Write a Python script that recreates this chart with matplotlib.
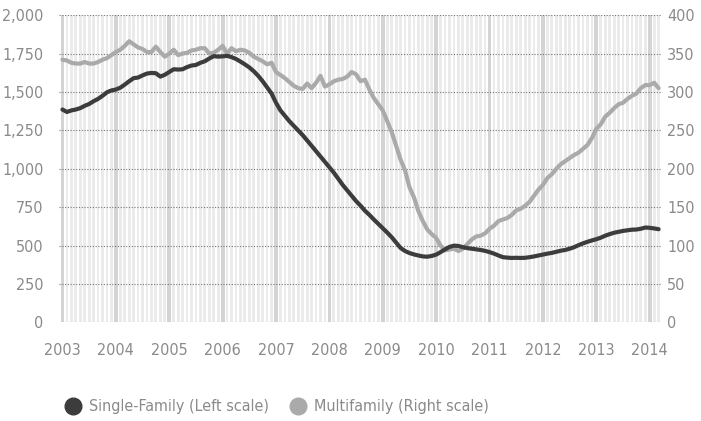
import numpy as np
import matplotlib
matplotlib.use("Agg")
import matplotlib.pyplot as plt
from matplotlib.lines import Line2D

# monthly series, Jan 2003 .. Mar 2014
single_family = [
    1386, 1370, 1380, 1386, 1395, 1410, 1422, 1440, 1455, 1475, 1498, 1510,
    1516, 1528, 1548, 1570, 1590, 1594, 1608, 1620, 1624, 1622, 1600, 1612,
    1630, 1648, 1646, 1648, 1662, 1672, 1676, 1690, 1700, 1718, 1733, 1730,
    1732, 1735, 1727, 1715, 1698, 1680, 1660, 1635, 1605, 1570, 1530, 1490,
    1430, 1380, 1345, 1310, 1280, 1250, 1219, 1185, 1150, 1115, 1080, 1045,
    1010, 975, 935, 895, 860, 825, 790, 760, 727, 700, 670, 642,
    613, 585, 555, 520, 485, 465, 452, 443, 436, 430, 428, 433,
    442, 458, 476, 492, 500, 498, 490, 484, 480, 476, 472, 466,
    458, 448, 436, 425, 422, 420, 421, 420, 421, 425, 430, 436,
    442, 448, 453, 460, 467, 472, 480, 490, 503, 515, 525, 534,
    542, 552, 565, 575, 584, 590, 596, 600, 604, 605, 610, 618,
    616, 612, 607,
]
multifamily = [
    342, 341, 338, 337, 337, 339, 337, 337, 339, 342, 344, 348,
    352, 355, 360, 366, 362, 358, 356, 352, 352, 359, 352, 346,
    350, 355, 348, 350, 351, 354, 355, 357, 357, 350, 351, 355,
    360, 350, 357, 353, 355, 354, 351, 346, 343, 340, 336, 338,
    326, 322, 318, 313, 308, 305, 304, 311, 305, 312, 321, 307,
    310, 314, 316, 317, 320, 326, 323, 314, 316, 303, 292, 284,
    276, 262, 248, 230, 212, 198, 176, 163, 145, 132, 121, 115,
    110, 100, 94, 95, 96, 93, 96, 102, 108, 112, 113, 116,
    122, 126, 132, 134, 136, 140, 146, 148, 152, 157, 165, 173,
    179, 188, 193, 200, 206, 210, 214, 218, 221, 226, 231, 240,
    252, 258, 268, 273, 279, 284, 286, 291, 295, 298, 305, 309,
    309, 312, 305,
]
years = list(range(2003, 2015))
left_ticks = list(range(0, 2001, 250))
right_ticks = list(range(0, 401, 50))

plt.rcParams['font.family'] = ['DejaVu Sans']
plt.rcParams['font.stretch'] = 'condensed'

label_color = '#8a8a8a'
dark = '#3c3c3c'
light = '#aaaaaa'

months = np.arange(len(single_family))

fig = plt.figure(figsize=(7.01, 4.21), dpi=100)
ax = fig.add_axes([0.084, 0.234, 0.86, 0.730])
ax2 = ax.twinx()

# month stripes in the background (on the right-scale axes so they sit underneath), january darker
is_jan = months % 12 == 0
ax2.bar(months[~is_jan], 400, width=0.62, color='#ebebeb', zorder=0, linewidth=0)
ax2.bar(months[is_jan], 400, width=0.85, color='#d4d4d4', zorder=0, linewidth=0)

for t in right_ticks:
    ax2.axhline(t, color='#777777', linestyle=(0, (1, 1.5)), linewidth=0.8, zorder=1)

ax2.plot(months, multifamily, color=light, linewidth=3.0, zorder=3, solid_capstyle='round')
ax.plot(months, single_family, color=dark, linewidth=3.0, zorder=4, solid_capstyle='round')

ax.set_zorder(ax2.get_zorder() + 1)
ax.patch.set_visible(False)

ax.set_xlim(-0.8, 134.7)
ax.set_ylim(0, 2000)
ax2.set_ylim(0, 400)

ax.set_yticks(left_ticks)
ax.set_yticklabels([f"{t:,}" for t in left_ticks])
ax2.set_yticks(right_ticks)
ax2.set_yticklabels([str(t) for t in right_ticks])
ax.set_xticks([12 * i for i in range(len(years))])
ax.set_xticklabels([str(y) for y in years])

ax.tick_params(axis='y', length=0, pad=11, labelsize=11.5, labelcolor=label_color)
ax2.tick_params(axis='y', length=0, pad=4, labelsize=11.5, labelcolor=label_color)
ax.tick_params(axis='x', length=0, pad=15, labelsize=11.5, labelcolor=label_color)

for a in (ax, ax2):
    for s in a.spines.values():
        s.set_visible(False)

handles = [
    Line2D([], [], marker='o', linestyle='none', markersize=12, color=dark),
    Line2D([], [], marker='o', linestyle='none', markersize=12, color=light),
]
leg = fig.legend(handles, ['Single-Family (Left scale)', 'Multifamily (Right scale)'],
                 loc='center left', bbox_to_anchor=(0.084, 0.034), ncol=2, frameon=False,
                 fontsize=11.5, handlelength=1.0, handletextpad=0.5, columnspacing=1.3,
                 borderaxespad=0)
for txt in leg.get_texts():
    txt.set_color(label_color)

fig.savefig('out.png', dpi=100)
